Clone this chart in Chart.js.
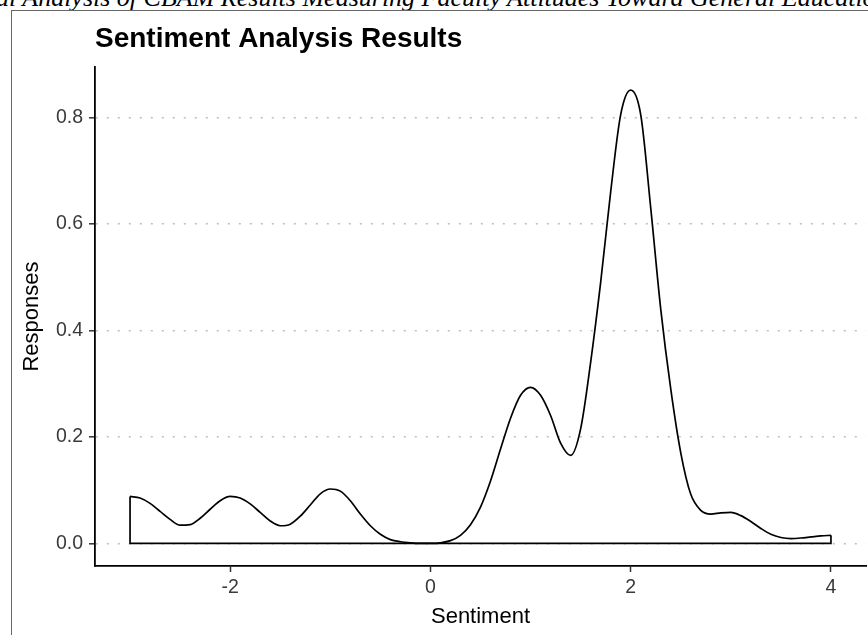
<!DOCTYPE html>
<html>
<head>
<meta charset="utf-8">
<script src="https://cdn.jsdelivr.net/npm/chart.js@4.4.1/dist/chart.umd.min.js"></script>
<style>
  html, body { margin: 0; padding: 0; background: #fff; }
  body { width: 868px; height: 635px; position: relative; overflow: hidden; }
  #caption {
    position: absolute; left: -4px; top: -15px; white-space: nowrap;
    font-family: 'Liberation Serif', 'Times New Roman', serif; font-style: italic;
    font-size: 26px; line-height: 26px; color: #000;
  }
  #frame {
    position: absolute; left: 11px; top: 10px; right: 0; bottom: 0;
    border-left: 1px solid #666; border-top: 1px solid #666;
  }
  #wrap { position: absolute; left: 0; top: 0; width: 868px; height: 635px; }
</style>
</head>
<body>
<div id="caption">al Analysis of CBAM Results Measuring Faculty Attitudes Toward General Education</div>
<div id="frame"></div>
<div id="wrap"><canvas id="myChart" width="868" height="635"></canvas></div>
<script>
const ctx = document.getElementById('myChart').getContext('2d');

// data
const sentiment = [-3.0, -2.9, -2.8, -2.7, -2.6, -2.5, -2.4, -2.3, -2.2, -2.1,
    -2.0, -1.9, -1.8, -1.7, -1.6, -1.5, -1.4, -1.3, -1.2, -1.1,
    -1.0, -0.9, -0.8, -0.7, -0.6, -0.5, -0.4, -0.3, -0.2, -0.1,
    0.0, 0.1, 0.2, 0.3, 0.4, 0.5, 0.6, 0.7, 0.8, 0.9,
    1.0, 1.1, 1.2, 1.3, 1.4, 1.5, 1.6, 1.7, 1.8, 1.9,
    2.0, 2.1, 2.2, 2.3, 2.4, 2.5, 2.6, 2.7, 2.8, 2.9,
    3.0, 3.1, 3.2, 3.3, 3.4, 3.5, 3.6, 3.7, 3.8, 3.9, 4.0];
const responses = [0.088, 0.085, 0.075, 0.060, 0.045, 0.034, 0.035, 0.047, 0.064, 0.080,
    0.088, 0.085, 0.074, 0.058, 0.042, 0.033, 0.036, 0.051, 0.072, 0.093,
    0.102, 0.098, 0.080, 0.055, 0.033, 0.017, 0.007, 0.003, 0.001, 0.000,
    0.000, 0.001, 0.005, 0.015, 0.035, 0.068, 0.117, 0.177, 0.235, 0.278,
    0.293, 0.278, 0.240, 0.188, 0.165, 0.215, 0.340, 0.490, 0.660, 0.805,
    0.851, 0.805, 0.630, 0.440, 0.290, 0.170, 0.092, 0.062, 0.055, 0.057,
    0.058, 0.052, 0.041, 0.028, 0.017, 0.011, 0.009, 0.010, 0.012, 0.014, 0.015];
const xTicks = [-2, 0, 2, 4];
const yTicks = [0.0, 0.2, 0.4, 0.6, 0.8];
const chartTitle = 'Sentiment Analysis Results';

Chart.defaults.font.family = "'Liberation Sans', Arial, sans-serif";

const curve = sentiment.map((x, i) => ({ x: x, y: responses[i] }));
const first = sentiment[0], last = sentiment[sentiment.length - 1];
const outline = [
    { x: first, y: responses[0] },
    { x: first, y: 0 },
    { x: last, y: 0 },
    { x: last, y: responses[responses.length - 1] }
];

// title drawn at the left edge of the plot area
const titlePlugin = {
    id: 'plotTitle',
    afterDraw(chart) {
        const c = chart.ctx;
        c.save();
        c.font = "bold 28px 'Liberation Sans', Arial, sans-serif";
        c.fillStyle = '#000';
        c.textBaseline = 'alphabetic';
        c.textAlign = 'left';
        c.fillText(chartTitle, chart.chartArea.left, 47);
        c.restore();
    }
};

const myChart = new Chart(ctx, {
    type: 'scatter',
    data: {
        datasets: [{
            label: 'outline',
            data: outline,
            showLine: true,
            borderColor: '#000',
            borderWidth: 1.7,
            pointRadius: 0,
            tension: 0
        }, {
            label: 'density',
            data: curve,
            showLine: true,
            borderColor: '#000',
            borderWidth: 1.7,
            pointRadius: 0,
            cubicInterpolationMode: 'monotone'
        }]
    },
    options: {
        responsive: false,
        animation: false,
        layout: { padding: { top: 67, right: 2, left: 0, bottom: 0 } },
        plugins: {
            legend: { display: false },
            tooltip: { enabled: false }
        },
        scales: {
            x: {
                type: 'linear',
                min: -3.35,
                max: 4.35,
                afterBuildTicks: (scale) => { scale.ticks = xTicks.map(v => ({ value: v })); },
                afterFit: (scale) => { scale.height = 69; },
                grid: { drawOnChartArea: false, tickLength: 6, tickColor: '#333', tickWidth: 1.5 },
                border: { display: true, color: '#000', width: 1.8 },
                ticks: { font: { size: 19.5 }, color: '#3a3a3a', padding: 4, maxRotation: 0,
                    callback: (v) => String(v) },
                title: { display: true, text: 'Sentiment', font: { size: 22 }, color: '#000',
                    padding: { top: 0, bottom: 5 } }
            },
            y: {
                min: -0.0426,
                max: 0.8946,
                afterBuildTicks: (scale) => { scale.ticks = yTicks.map(v => ({ value: v })); },
                afterFit: (scale) => { scale.width = 95; },
                grid: { color: '#bdbdbd', lineWidth: 1.6,
                    tickLength: 6, tickColor: '#333', tickWidth: 1.5, tickBorderDash: [] },
                border: { display: true, color: '#000', width: 1.8, dash: [2, 9] },
                ticks: { font: { size: 19.5 }, color: '#3a3a3a', padding: 6,
                    callback: (v) => Number(v).toFixed(1) },
                title: { display: true, text: 'Responses', font: { size: 22 }, color: '#000',
                    padding: { top: 19, bottom: 0 } }
            }
        }
    },
    plugins: [titlePlugin]
});
</script>
</body>
</html>
